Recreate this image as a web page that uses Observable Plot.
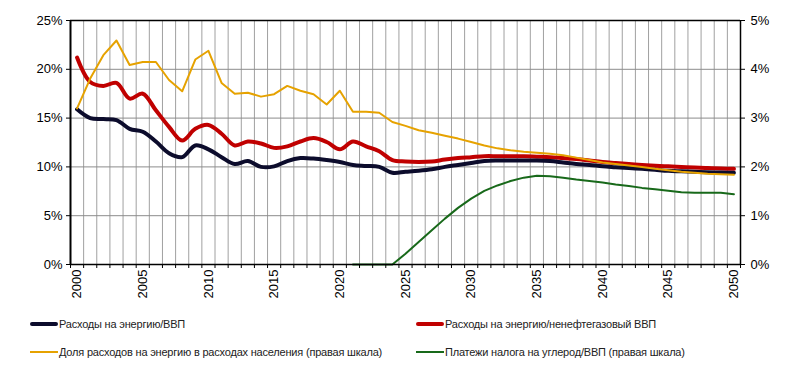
<!DOCTYPE html>
<html>
<head>
<meta charset="utf-8">
<script src="https://cdn.jsdelivr.net/npm/d3@7"></script>
<script src="https://cdn.jsdelivr.net/npm/@observablehq/plot@0.6"></script>
<style>
  html, body { margin: 0; padding: 0; background: #fff; }
  #wrap { position: relative; width: 800px; height: 368px; font-family: "Liberation Sans", Arial, sans-serif; }
  .leg { position: absolute; display: flex; align-items: center; font-size: 11px; color: #222; letter-spacing: -0.2px; white-space: nowrap; }
  .leg span.sw { display: inline-block; width: 28px; margin-right: 1px; }
</style>
</head>
<body>
<div id="wrap">
  <div id="chart"></div>
</div>
<script>
const years = [2000,2001,2002,2003,2004,2005,2006,2007,2008,2009,2010,2011,2012,2013,2014,2015,2016,2017,2018,2019,2020,2021,2022,2023,2024,2025,2026,2027,2028,2029,2030,2031,2032,2033,2034,2035,2036,2037,2038,2039,2040,2041,2042,2043,2044,2045,2046,2047,2048,2049,2050];

// Расходы на энергию/ВВП (left scale, %)
const energyGdp = [15.9,15.0,14.9,14.8,13.9,13.6,12.6,11.4,11.0,12.2,11.8,11.0,10.3,10.6,10.0,10.05,10.6,10.9,10.85,10.7,10.5,10.2,10.1,10.0,9.4,9.5,9.6,9.75,10.0,10.2,10.4,10.6,10.65,10.65,10.65,10.65,10.6,10.45,10.3,10.2,10.06,9.97,9.88,9.8,9.7,9.6,9.55,9.5,9.45,9.42,9.4];

// Расходы на энергию/ненефтегазовый ВВП (left scale, %)
const energyNonOilGdp = [21.2,18.7,18.3,18.6,17.0,17.5,15.8,14.1,12.7,13.9,14.3,13.4,12.2,12.6,12.4,11.95,12.1,12.6,12.95,12.55,11.8,12.6,12.1,11.6,10.7,10.55,10.5,10.55,10.75,10.9,11.0,11.1,11.1,11.1,11.1,11.05,11.0,10.9,10.8,10.65,10.5,10.4,10.3,10.2,10.12,10.06,10.0,9.93,9.88,9.83,9.8];

// Доля расходов на энергию в расходах населения (right scale, %)
const householdShare = [3.2,3.81,4.29,4.59,4.09,4.15,4.15,3.78,3.55,4.2,4.38,3.72,3.5,3.52,3.44,3.49,3.66,3.56,3.49,3.28,3.56,3.13,3.13,3.11,2.92,2.84,2.75,2.70,2.64,2.58,2.51,2.44,2.38,2.34,2.31,2.29,2.27,2.24,2.19,2.14,2.09,2.06,2.03,2.0,1.96,1.93,1.9,1.88,1.86,1.85,1.84];

// Платежи налога на углерод/ВВП (right scale, %)
const carbonTax = [null,null,null,null,null,null,null,null,null,null,null,null,null,null,null,null,null,null,null,null,null,0,0,0,0,0.22,0.46,0.70,0.94,1.16,1.35,1.51,1.62,1.71,1.78,1.82,1.81,1.78,1.74,1.71,1.68,1.64,1.61,1.57,1.54,1.51,1.48,1.47,1.47,1.47,1.44];

const leftTicks = [0,5,10,15,20,25];
const rightTicks = [0,1,2,3,4,5];
const yearLabels = [2000,2005,2010,2015,2020,2025,2030,2035,2040,2045,2050];

const seriesNames = [
  "Расходы на энергию/ВВП",
  "Расходы на энергию/ненефтегазовый ВВП",
  "Доля расходов на энергию в расходах населения (правая шкала)",
  "Платежи налога на углерод/ВВП (правая шкала)"
];
const colors = ["#0c0c2c", "#c00000", "#e6a200", "#18691a"];
const widths = [4, 4, 2, 2];

const ratio = 25 / 5; // right scale 0–5% mapped onto left 0–25%

const rows = years.map((yr, i) => ({
  year: yr,
  black: energyGdp[i],
  red: energyNonOilGdp[i],
  yellow: householdShare[i] * ratio,
  green: carbonTax[i] == null ? NaN : carbonTax[i] * ratio
}));

const bounds = [years[0] - 0.5, ...years.map(y => y + 0.5)];
const innerBounds = bounds.slice(1, -1);

const chart = Plot.plot({
  width: 800,
  height: 300,
  marginTop: 20,
  marginBottom: 36,
  marginLeft: 70,
  marginRight: 60,
  style: { fontFamily: "Liberation Sans, Arial, sans-serif", fontSize: "13px", color: "#000", background: "#fff" },
  x: { domain: [bounds[0], bounds[bounds.length - 1]] },
  y: { domain: [0, 25] },
  marks: [
    Plot.ruleX(innerBounds, { stroke: "#a0a0a0", strokeWidth: 1 }),
    Plot.ruleY([5, 10, 15, 20], { stroke: "#8c8c8c", strokeWidth: 1 }),
    Plot.line(rows, { x: "year", y: "red", stroke: colors[1], strokeWidth: widths[1], curve: "catmull-rom" }),
    Plot.line(rows, { x: "year", y: "black", stroke: colors[0], strokeWidth: widths[0], curve: "catmull-rom" }),
    Plot.line(rows, { x: "year", y: "yellow", stroke: colors[2], strokeWidth: widths[2] }),
    Plot.line(rows, { x: "year", y: "green", stroke: colors[3], strokeWidth: widths[3] }),
    Plot.ruleY([25], { stroke: "#000", strokeWidth: 1.5 }),
    Plot.ruleY([0], { stroke: "#000", strokeWidth: 1.5 }),
    Plot.ruleX([bounds[0]], { stroke: "#000", strokeWidth: 2 }),
    Plot.ruleX([bounds[bounds.length - 1]], { stroke: "#000", strokeWidth: 1.5 }),
    Plot.axisY({ anchor: "left", ticks: leftTicks, tickFormat: d => d + "%", tickSize: 4, tickPadding: 4, label: null, fontSize: 13 }),
    Plot.axisY({ anchor: "right", ticks: rightTicks.map(d => d * ratio), tickFormat: d => (d / ratio) + "%", tickSize: 4, tickPadding: 6, label: null, fontSize: 13 }),
    Plot.axisX({ ticks: bounds, tickFormat: () => "", tickSize: 4, label: null }),
    Plot.axisX({ ticks: yearLabels, tickFormat: d => String(d), tickSize: 0, tickRotate: -90, tickPadding: 5, label: null, fontSize: 13 })
  ]
});
document.getElementById("chart").appendChild(chart);

// Legend
const wrap = document.getElementById("wrap");
const legendPos = [
  { left: 30, top: 316 },
  { left: 416, top: 316 },
  { left: 30, top: 344 },
  { left: 416, top: 344 }
];
seriesNames.forEach((name, i) => {
  const d = document.createElement("div");
  d.className = "leg";
  d.style.left = legendPos[i].left + "px";
  d.style.top = legendPos[i].top + "px";
  d.style.height = "16px";
  const sw = document.createElement("span");
  sw.className = "sw";
  sw.style.height = widths[i] + "px";
  sw.style.background = colors[i];
  sw.style.borderRadius = widths[i] > 2 ? "2px" : "0";
  d.appendChild(sw);
  const t = document.createElement("span");
  t.textContent = name;
  d.appendChild(t);
  wrap.appendChild(d);
});
</script>
</body>
</html>
